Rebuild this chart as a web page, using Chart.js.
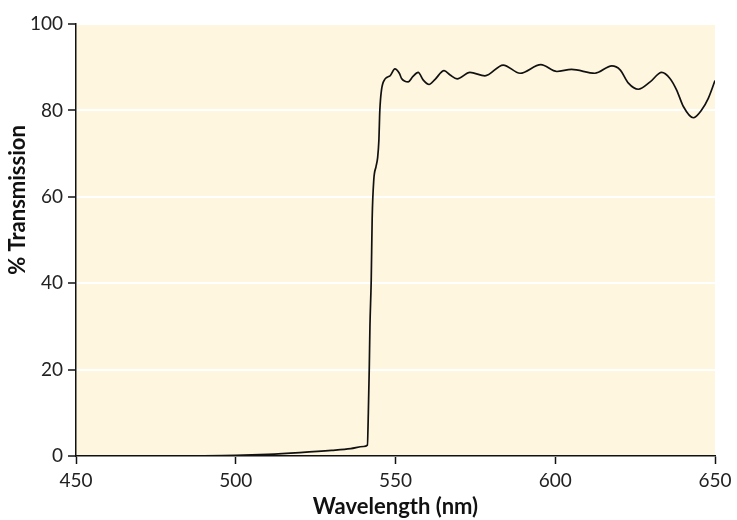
<!DOCTYPE html>
<html>
<head>
<meta charset="utf-8">
<script src="https://cdn.jsdelivr.net/npm/chart.js@4/dist/chart.umd.min.js"></script>
<style>
  html, body { margin: 0; padding: 0; background: #fff; }
  #wrap { width: 737px; height: 520px; }
</style>
</head>
<body>
<div id="wrap"><canvas id="specChart" width="737" height="520"></canvas></div>
<script>
// wavelength (nm) and % transmission
const wavelengths = [450, 470, 490, 500, 510, 520, 530, 536, 540, 541.2, 541.5, 541.8, 542.0, 542.4, 542.7, 543.2,
  543.9, 544.4, 544.8, 545.1, 546.2, 548.3, 549.8, 551.2, 551.9, 554.0, 555.4, 557.1, 558.7, 560.5, 562.4,
  565.2, 567.1, 569.3, 573.3, 578.0, 583.7, 589.0, 595.5, 600.5, 605.1, 612.4, 617.7, 620.3, 622.9, 626.0,
  629.7, 633.3, 635.9, 638.0, 640.1, 643.2, 645.8, 647.9, 650];
const transmission = [0, 0, 0.05, 0.15, 0.4, 0.8, 1.3, 1.7, 2.2, 2.5, 10, 20.7, 30, 40.7, 55, 63.9,
  67.0, 69.0, 73.1, 80.1, 86.6, 88.0, 89.6, 88.6, 87.4, 86.6, 87.8, 88.8, 87.0, 86.0, 87.2,
  89.2, 88.2, 87.3, 88.8, 88.0, 90.5, 88.6, 90.6, 89.0, 89.5, 88.6, 90.3, 89.4, 86.3, 84.9,
  86.6, 88.8, 87.4, 84.7, 80.9, 78.3, 80.1, 82.8, 86.9];
const xTicks = [450, 500, 550, 600, 650];
const yTicks = [0, 20, 40, 60, 80, 100];
const yTitle = "% Transmission";

const points = wavelengths.map((w, i) => ({ x: w, y: transmission[i] }));

const fontFamily = "Lato, 'Noto Sans', sans-serif";

// cream plot background
const plotBg = {
  id: "plotBg",
  beforeDraw(chart) {
    const { ctx, chartArea: a } = chart;
    ctx.save();
    ctx.fillStyle = "#fef6df";
    ctx.fillRect(a.left, a.top, a.right - a.left, a.bottom - a.top);
    ctx.restore();
  }
};

// y title sits a bit above the middle of the axis in the original
const yTitlePlugin = {
  id: "yTitle",
  afterDraw(chart) {
    const { ctx } = chart;
    ctx.save();
    ctx.translate(18, 200);
    ctx.rotate(-Math.PI / 2);
    ctx.font = "bold 22px " + fontFamily;
    ctx.fillStyle = "#111";
    ctx.textAlign = "center";
    ctx.textBaseline = "middle";
    ctx.fillText(yTitle, 0, 0);
    ctx.restore();
  }
};

const tickFont = { family: fontFamily, size: 19 };

new Chart(document.getElementById("specChart"), {
  type: "line",
  data: {
    datasets: [{
      data: points,
      borderColor: "#111",
      borderWidth: 1.7,
      pointRadius: 0,
      fill: false,
      cubicInterpolationMode: "monotone"
    }]
  },
  options: {
    responsive: false,
    animation: false,
    layout: { padding: { top: 24, right: 22, left: 0, bottom: 0 } },
    plugins: { legend: { display: false }, tooltip: { enabled: false } },
    scales: {
      x: {
        type: "linear",
        min: 450, max: 650,
        afterBuildTicks: s => { s.ticks = xTicks.map(v => ({ value: v })); },
        afterFit: s => { s.height = 64; },
        border: { color: "#111", width: 1.5 },
        grid: { drawOnChartArea: false, tickColor: "#111", tickLength: 8, tickWidth: 1.5 },
        ticks: { color: "#222", font: tickFont, padding: 5, maxRotation: 0 },
        title: { display: true, text: "Wavelength (nm)", color: "#111",
                 font: { family: fontFamily, size: 22, weight: "bold" }, padding: { top: 0, bottom: 0 } }
      },
      y: {
        min: 0, max: 100,
        afterBuildTicks: s => { s.ticks = yTicks.map(v => ({ value: v })); },
        afterFit: s => { s.width = 76; },
        border: { color: "#111", width: 1.5 },
        grid: { color: "#ffffff", lineWidth: 2, tickColor: "#111", tickLength: 8, tickWidth: 1.5 },
        ticks: { color: "#222", font: tickFont, padding: 5 }
      }
    }
  },
  plugins: [plotBg, yTitlePlugin]
});
</script>
</body>
</html>
